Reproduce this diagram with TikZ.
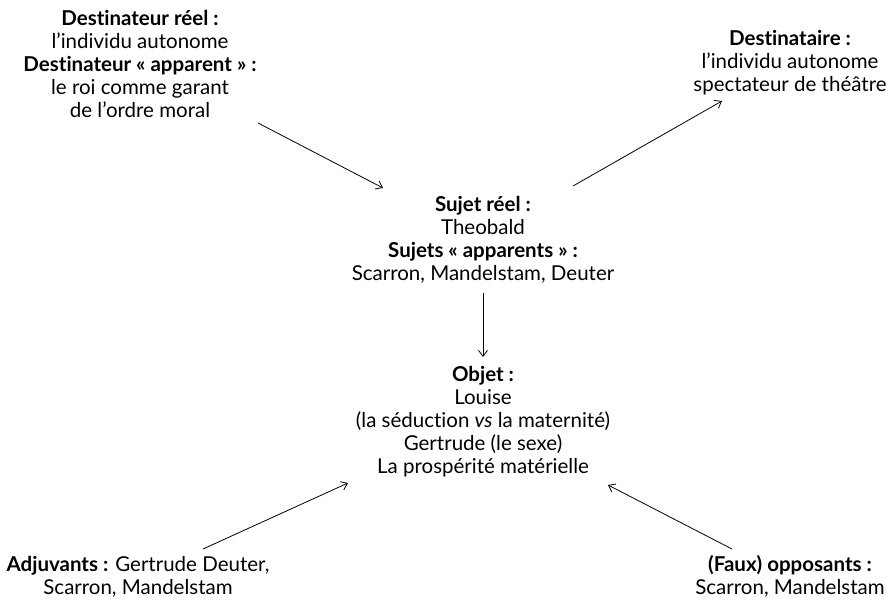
\documentclass[tikz,border=0pt]{standalone}
\usepackage{fontspec}
\setmainfont[Ligatures=NoCommon]{Lato}
\usetikzlibrary{arrows.meta}
\tikzset{
  txt/.style={align=center, inner sep=0pt, font=\fontsize{20.5}{23}\selectfont},
  conn/.style={line width=0.8pt, -{Straight Barb[length=6pt,width=9pt]}}
}
\begin{document}
\begin{tikzpicture}[x=1pt,y=-1pt]
\useasboundingbox (0,0) rectangle (892,604);
\node[txt] (dtr) at (140,63.5) {\textbf{Destinateur réel :}\\l’individu autonome\\\textbf{Destinateur «~apparent~» :}\\le roi comme garant\\de l’ordre moral};
\node[txt] (dta) at (790,63) {\textbf{Destinataire :}\\l’individu autonome\\spectateur de théâtre};
\node[txt] (suj) at (483,239.5) {\textbf{Sujet réel :}\\Theobald\\\textbf{Sujets «~apparents~» :}\\Scarron, Mandelstam, Deuter};
\node[txt] (obj) at (483,422) {\textbf{Objet :}\\Louise\\(la séduction \textit{vs} la maternité)\\Gertrude (le sexe)\\La prospérité matérielle};
\node[txt] (adj) at (138,576.5) {\textbf{Adjuvants :} Gertrude Deuter,\\Scarron, Mandelstam};
\node[txt] (opp) at (790,576.5) {\textbf{(Faux) opposants :}\\Scarron, Mandelstam};
\coordinate (a1s) at (258,123);
\coordinate (a1e) at (383,188);
\coordinate (a2s) at (573,186);
\coordinate (a2e) at (722,101);
\coordinate (a3s) at (483,293);
\coordinate (a3e) at (483,357);
\coordinate (a4s) at (203,549);
\coordinate (a4e) at (348,483);
\coordinate (a5s) at (732,549);
\coordinate (a5e) at (608,485);
\draw[conn] (a1s) -- (a1e);
\draw[conn] (a2s) -- (a2e);
\draw[conn] (a3s) -- (a3e);
\draw[conn] (a4s) -- (a4e);
\draw[conn] (a5s) -- (a5e);
\end{tikzpicture}
\end{document}
